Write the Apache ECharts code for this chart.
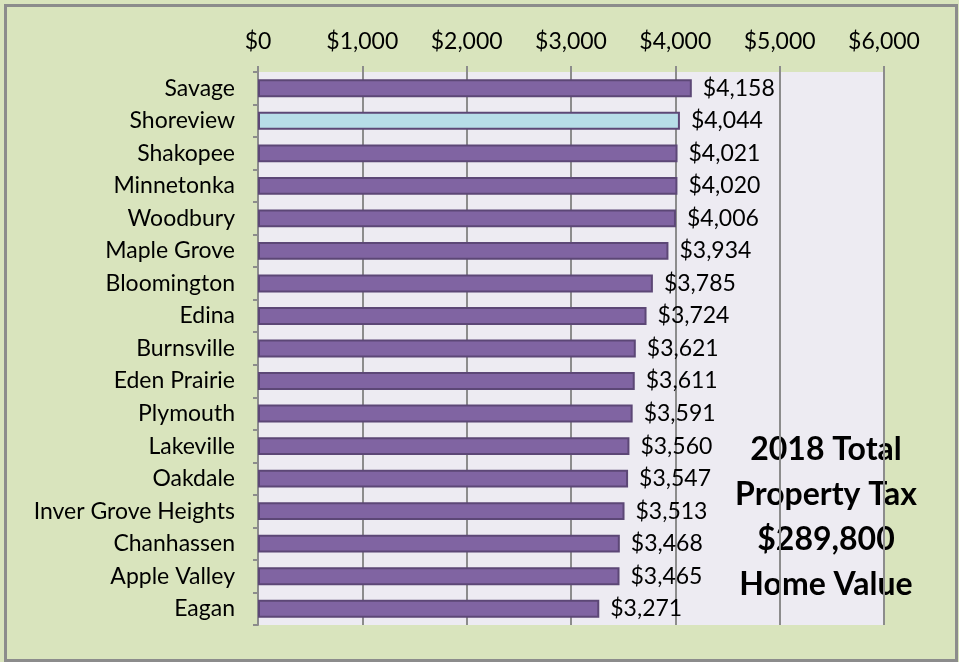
<!DOCTYPE html>
<html>
<head>
<meta charset="utf-8">
<script src="https://cdn.jsdelivr.net/npm/echarts@6/dist/echarts.min.js"></script>
<style>
  html, body { margin: 0; padding: 0; background: #fff; }
  #chart { width: 959px; height: 662px; }
</style>
</head>
<body>
<div id="chart"></div>
<script>
const cities = ['Savage', 'Shoreview', 'Shakopee', 'Minnetonka', 'Woodbury', 'Maple Grove',
  'Bloomington', 'Edina', 'Burnsville', 'Eden Prairie', 'Plymouth', 'Lakeville', 'Oakdale',
  'Inver Grove Heights', 'Chanhassen', 'Apple Valley', 'Eagan']
const taxes = [4158, 4044, 4021, 4020, 4006, 3934, 3785, 3724, 3621, 3611, 3591, 3560, 3547,
  3513, 3468, 3465, 3271]
const highlight = 'Shoreview'
const noteLines = ['2018 Total', 'Property Tax', '$289,800', 'Home Value']

const fmt = v => '$' + v.toLocaleString('en-US')

const chart = echarts.init(document.getElementById('chart'))
chart.setOption({
  backgroundColor: '#d9e4bd',
  animation: false,
  grid: {
    left: 258, right: 75, top: 72, bottom: 37,
    show: true, backgroundColor: '#edebf2', borderWidth: 0
  },
  xAxis: {
    type: 'value',
    position: 'top',
    min: 0, max: 6000, interval: 1000,
    axisLine: { show: false },
    axisTick: { show: true, length: 6, lineStyle: { color: '#8c8c8c', width: 2 } },
    splitLine: { show: true, lineStyle: { color: '#8c8c8c', width: 2 } },
    axisLabel: {
      formatter: v => fmt(v),
      margin: 19,
      fontFamily: 'Lato', fontSize: 23, color: '#000'
    }
  },
  yAxis: {
    type: 'category',
    inverse: true,
    data: cities,
    axisLine: { show: true, lineStyle: { color: '#8c8c8c', width: 2 } },
    axisTick: { show: true, length: 5, lineStyle: { color: '#8c8c8c', width: 2 } },
    axisLabel: { margin: 23, fontFamily: 'Lato', fontSize: 23, color: '#000' }
  },
  series: [{
    type: 'bar',
    data: taxes.map((v, i) => ({
      value: v,
      itemStyle: cities[i] === highlight ? { color: '#b7dde8' } : {}
    })),
    barCategoryGap: '45%',
    itemStyle: { color: '#8064a2', borderColor: '#5c4776', borderWidth: 2 },
    label: {
      show: true, position: 'right', distance: 11,
      formatter: p => fmt(p.value),
      fontFamily: 'Lato', fontSize: 23, color: '#000'
    }
  }],
  graphic: [
    {
      type: 'rect', left: 3, top: 3,
      shape: { width: 951, height: 655 },
      style: { fill: 'none', stroke: '#8c8c8c', lineWidth: 3 }
    },
    {
      type: 'text', x: 826, y: 427,
      style: {
        text: noteLines.join('\n'),
        font: 'bold 32px Lato',
        lineHeight: 45,
        align: 'center',
        verticalAlign: 'top',
        fill: '#000'
      }
    }
  ]
})
</script>
</body>
</html>
